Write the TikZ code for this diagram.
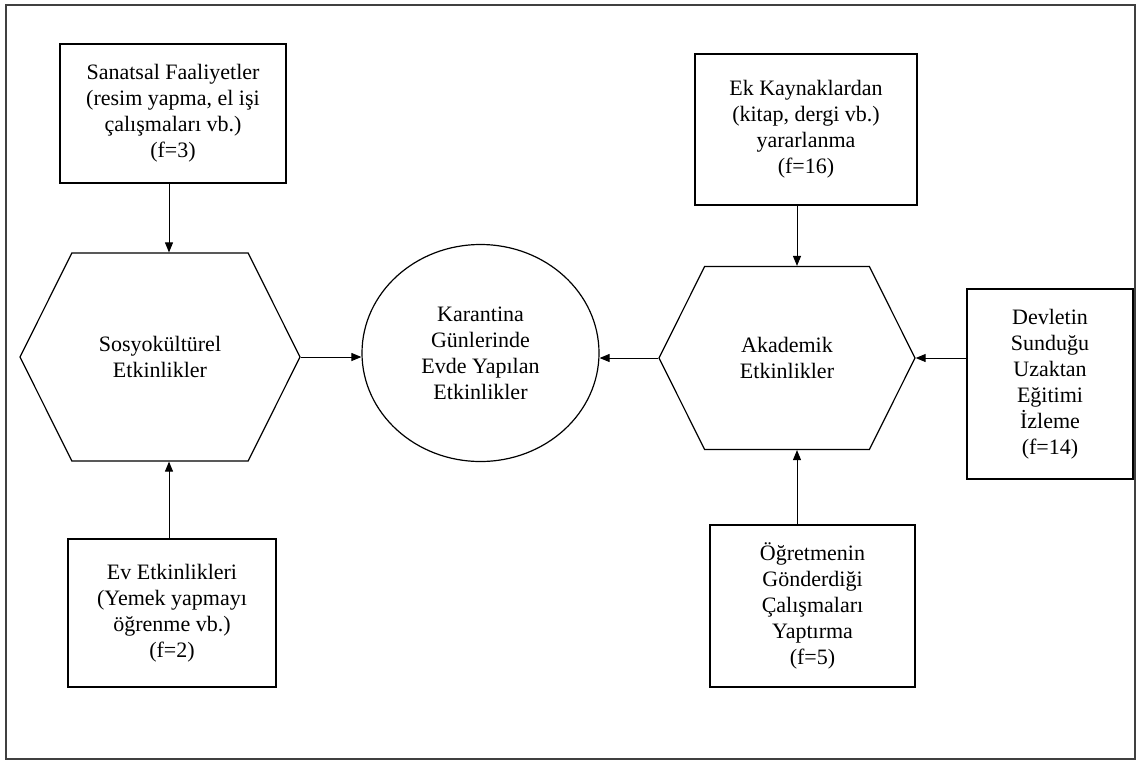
\documentclass[tikz,border=0pt]{standalone}
\usepackage{fontspec}
\setmainfont{Liberation Serif}
\usetikzlibrary{arrows.meta,shapes.geometric,shapes.symbols,calc}

\begin{document}
\begin{tikzpicture}
      [x = 1pt, y = -1pt,
      every node/.style = {
         font = \fontsize{22}{26}\selectfont,
         align = center
      },
      arr/.style = {-{Triangle[length=10pt,width=8pt]}, line width = 1pt},
      kutu/.style = {
         draw,
         rectangle,
         line width = 1.2pt,
         inner sep = 0pt
      },
      altigen/.style = {
         draw,
         shape = signal,
         signal to = east and west,
         signal pointer angle = 127,
         line width = 1.2pt,
         inner sep = 0pt
      },
      merkez/.style = {
         draw,
         ellipse,
         line width = 1.2pt,
         inner sep = 0pt,
         minimum width = 237pt,
         minimum height = 217pt
      }]

      \useasboundingbox (0, 0) rectangle (1140, 761);
      \draw[line width = 1.5pt, draw = black!75] (6, 5) rectangle (1135, 759);

      % main shapes
      \node[merkez] (kar) at (480.5, 353) {Karantina\\Günlerinde\\Evde Yapılan\\Etkinlikler};
      \node[altigen, minimum width = 280pt, minimum height = 208pt] (sosyo) at (160, 357) {Sosyokültürel\\Etkinlikler};
      \node[altigen, minimum width = 256pt, minimum height = 183pt] (akad) at (787, 358) {Akademik\\Etkinlikler};

      % boxes
      \node[kutu, minimum width = 226pt, minimum height = 139pt] (sanat) at (173, 113.5)
         {Sanatsal Faaliyetler\\(resim yapma, el işi\\çalışmaları vb.)\\(f=3)};
      \node[kutu, minimum width = 208pt, minimum height = 148pt] (ev) at (172, 613)
         {Ev Etkinlikleri\\(Yemek yapmayı\\öğrenme vb.)\\(f=2)};
      \node[kutu, minimum width = 222pt, minimum height = 151pt] (ek) at (806, 129.5)
         {Ek Kaynaklardan\\(kitap, dergi vb.)\\yararlanma\\(f=16)};
      \node[kutu, minimum width = 205pt, minimum height = 162pt] (ogret) at (812.5, 606)
         {Öğretmenin\\Gönderdiği\\Çalışmaları\\Yaptırma\\(f=5)};
      \node[kutu, minimum width = 166pt, minimum height = 190pt] (devlet) at (1050, 384)
         {Devletin\\Sunduğu\\Uzaktan\\Eğitimi\\İzleme\\(f=14)};

      % arrows
      \coordinate (sol) at (169, 0);
      \coordinate (sag) at (797, 0);
      \draw[arr] (sanat.south -| sol) -- (sosyo.north -| sol);
      \draw[arr] (ev.north -| sol) -- (sosyo.south -| sol);
      \draw[arr] (sosyo.east) -- (sosyo.east -| kar.west);
      \draw[arr] (akad.west) -- (akad.west -| kar.east);
      \draw[arr] (ek.south -| sag) -- (akad.north -| sag);
      \draw[arr] (ogret.north -| sag) -- (akad.south -| sag);
      \draw[arr] (devlet.west |- akad.east) -- (akad.east);

   \end{tikzpicture}
\end{document}
